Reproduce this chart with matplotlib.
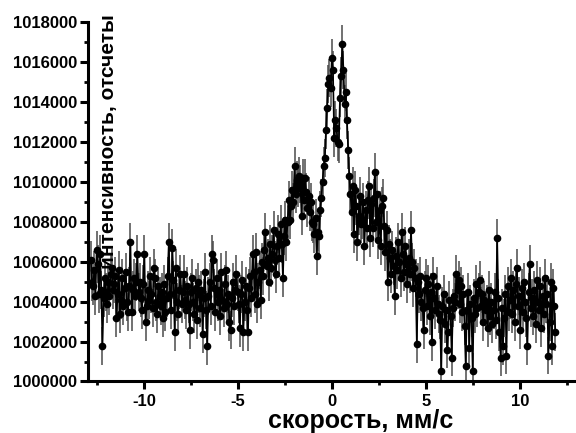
import numpy as np
import matplotlib
matplotlib.use("Agg")
import matplotlib.pyplot as plt
from matplotlib.ticker import MultipleLocator, FormatStrFormatter

plt.rcParams['font.family'] = ['Liberation Sans', 'DejaVu Sans']
plt.rcParams['font.weight'] = 'bold'

# velocity channels (mm/s): first and last point
V_START, V_STOP = -12.85, 11.9

# counts above 1 000 000, in thousands (20 channels per row)
counts_k = [
    6.1, 5.0, 4.8, 5.6, 4.3, 6.6, 5.9, 4.4, 6.4, 4.6, 1.8, 4.2, 5.2, 4.5, 3.9, 5.0, 4.3, 5.4, 5.7, 4.6,
    4.9, 5.3, 3.2, 4.4, 5.6, 3.4, 4.1, 5.2, 3.8, 4.7, 5.5, 4.0, 3.5, 4.8, 7.0, 3.5, 4.6, 5.2, 4.3, 5.0,
    6.4, 4.5, 5.0, 4.2, 3.6, 4.9, 6.4, 3.0, 3.8, 4.6, 4.1, 5.3, 4.4, 3.7, 5.7, 5.2, 4.0, 3.4, 4.8, 4.3,
    3.8, 4.5, 3.2, 4.9, 3.5, 4.2, 5.3, 7.0, 4.4, 3.6, 6.7, 5.1, 2.5, 5.7, 4.0, 3.4, 4.6, 5.4, 3.9, 4.5,
    5.4, 4.1, 3.6, 4.8, 3.9, 2.6, 4.5, 5.2, 4.0, 3.4, 4.7, 3.1, 5.0, 4.4, 3.7, 4.6, 2.4, 4.2, 5.5, 3.6,
    1.8, 4.3, 5.0, 3.8, 6.4, 6.1, 4.7, 3.5, 5.2, 4.0, 4.6, 3.3, 5.5, 4.1, 3.7, 4.9, 5.6, 3.9, 4.4, 3.0,
    2.6, 4.2, 5.0, 3.8, 4.6, 5.4, 4.5, 3.9, 2.7, 4.4, 5.1, 2.5, 4.0, 4.8, 3.6, 2.5, 4.7, 5.3, 4.2, 6.4,
    5.5, 4.4, 6.5, 3.9, 5.0, 5.6, 4.1, 6.0, 5.3, 6.6, 7.5, 5.8, 6.2, 5.0, 6.9, 5.7, 6.4, 7.6, 6.1, 5.4,
    6.8, 7.4, 6.2, 7.9, 6.9, 5.2, 7.3, 8.1, 7.0, 8.0, 9.1, 8.1, 8.8, 9.6, 9.0, 10.8, 9.4, 10.1, 9.7, 10.3,
    9.9, 8.3, 10.2, 9.1, 10.2, 9.5, 8.7, 9.3, 8.5, 9.0, 8.0, 7.9, 7.4, 8.2, 6.3, 7.5, 7.3, 8.6, 9.2, 10.0,
    10.8, 11.2, 12.6, 13.7, 14.9, 15.2, 14.7, 16.2, 15.6, 12.2, 13.1, 12.7, 12.0, 11.9, 14.2, 15.3, 16.9, 15.6, 13.9, 14.5,
    13.1, 11.6, 10.3, 9.4, 8.5, 9.8, 7.4, 9.6, 8.8, 7.0, 8.3, 9.3, 7.9, 8.1, 9.0, 6.8, 8.6, 7.7, 9.1, 9.8,
    7.2, 8.9, 7.7, 9.2, 10.5, 8.0, 9.4, 7.1, 8.6, 6.8, 8.8, 9.2, 7.8, 6.5, 7.6, 5.0, 6.9, 6.2, 5.4, 6.6,
    5.8, 4.3, 6.3, 5.6, 7.0, 6.0, 5.2, 7.5, 6.4, 5.5, 6.8, 5.9, 4.9, 6.2, 5.4, 7.6, 6.0, 4.7, 5.7, 5.2,
    1.9, 5.0, 4.4, 5.3, 4.0, 3.7, 2.6, 4.6, 5.2, 3.8, 4.9, 3.3, 4.5, 2.0, 5.3, 4.2, 3.6, 4.8, 3.9, 3.4,
    3.1, 0.5, 3.8, 4.4, 2.9, 3.6, 1.6, 2.5, 4.1, 3.3, 1.2, 3.7, 4.3, 4.0, 5.4, 4.6, 5.1, 3.9, 4.8, 3.5,
    4.4, 2.8, 0.8, 3.6, 4.5, 1.7, 3.9, 3.2, 0.5, 4.2, 3.4, 4.9, 3.7, 4.5, 5.1, 3.8, 4.4, 3.0, 4.1, 3.6,
    3.9, 2.7, 4.6, 3.3, 4.0, 2.9, 3.6, 4.5, 3.1, 7.2, 4.2, 2.5, 1.2, 3.7, 1.8, 3.2, 4.4, 1.3, 4.8, 3.5,
    4.1, 5.2, 3.4, 4.6, 3.0, 4.9, 5.7, 3.8, 4.3, 2.6, 4.7, 3.5, 5.0, 4.0, 3.2, 1.8, 4.5, 5.9, 3.7, 4.2,
    3.3, 4.6, 2.9, 5.1, 4.0, 3.6, 4.8, 2.7, 4.3, 3.4, 5.2, 3.9, 4.4, 1.3, 3.0, 5.0, 1.8, 4.7, 3.8, 2.5,
]
ERR = 950  # half-height of the error bars, counts

velocity = np.linspace(V_START, V_STOP, len(counts_k))
counts = 1000000 + 1000 * np.array(counts_k)

fig = plt.figure(figsize=(5.76, 4.33), dpi=100)
ax = fig.add_axes([0.1528, 0.119, 0.8472, 0.830])

ax.errorbar(velocity, counts, yerr=ERR, fmt='o-', color='black', ms=4.5,
            lw=1.2, ecolor='#4a4a4a', elinewidth=1.1, capsize=0)

ax.set_xlim(-13, 13)
ax.set_ylim(1000000, 1018000)
ax.xaxis.set_major_locator(MultipleLocator(5))
ax.xaxis.set_minor_locator(MultipleLocator(2.5))
ax.yaxis.set_major_locator(MultipleLocator(2000))
ax.yaxis.set_minor_locator(MultipleLocator(1000))
ax.xaxis.set_major_formatter(FormatStrFormatter('%d'))
ax.yaxis.set_major_formatter(FormatStrFormatter('%d'))

for side in ['top', 'right']:
    ax.spines[side].set_visible(False)
for side in ['left', 'bottom']:
    ax.spines[side].set_linewidth(2.2)

ax.tick_params(which='major', direction='out', length=6, width=2.2, labelsize=12, pad=2)
ax.tick_params(which='minor', direction='out', length=3, width=2.0)
ax.tick_params(axis='x', which='major', pad=3)
for lab in ax.get_xticklabels() + ax.get_yticklabels():
    lab.set_fontweight('bold')

ax.set_xlabel('скорость, мм/с', fontsize=18, fontweight='bold')
ax.xaxis.set_label_coords(0.559, -0.077, transform=ax.transAxes)
ax.xaxis.label.set_va('top')
ax.text(0.043, 0.668, 'интенсивность, отсчеты', rotation=90, transform=ax.transAxes,
        ha='center', va='center', fontsize=15, fontweight='bold')

fig.savefig('out.png', dpi=100)
